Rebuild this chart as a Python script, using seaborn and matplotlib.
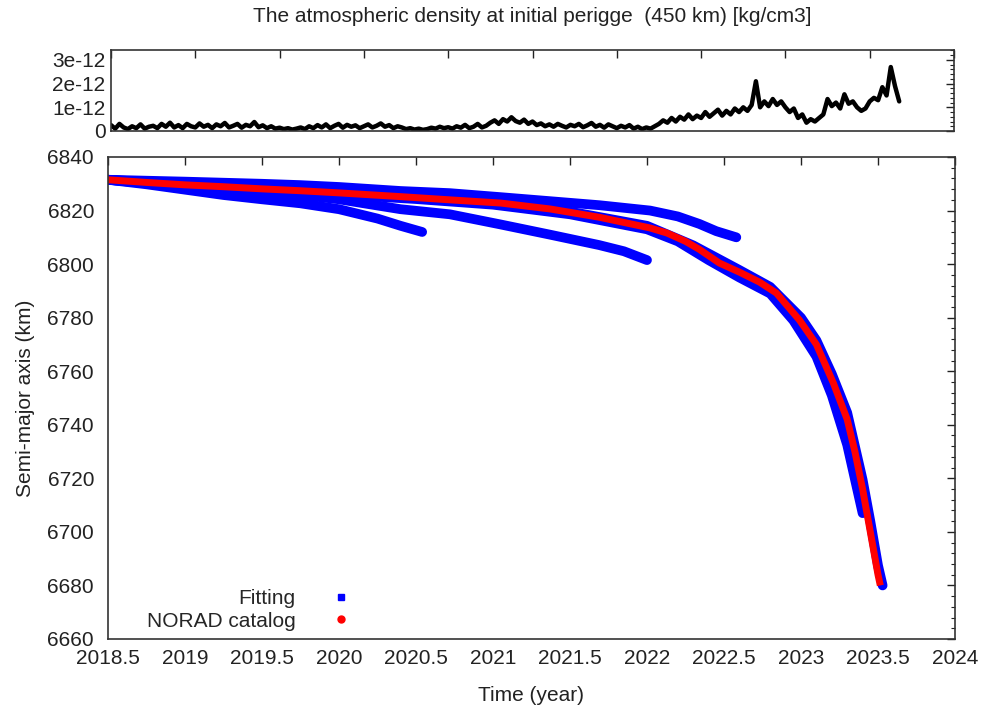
import numpy as np
import pandas as pd
import matplotlib
matplotlib.use("Agg")
import matplotlib.pyplot as plt
import seaborn as sns
from matplotlib.ticker import MultipleLocator, AutoMinorLocator, FuncFormatter
from matplotlib.lines import Line2D

# ---------------- data ----------------
# atmospheric density (x 1e-12 kg/cm3), sampled every 10 days from start
density_day = list(range(0, 1880, 10))
density_val = [
    0.25, 0.10, 0.30, 0.15, 0.08, 0.20, 0.12, 0.28, 0.10, 0.18,
    0.22, 0.12, 0.30, 0.18, 0.35, 0.15, 0.25, 0.12, 0.30, 0.20,
    0.15, 0.32, 0.18, 0.26, 0.12, 0.28, 0.20, 0.34, 0.15, 0.22,
    0.30, 0.14, 0.26, 0.20, 0.38, 0.16, 0.24, 0.12, 0.20, 0.10,
    0.14, 0.08, 0.12, 0.06, 0.10, 0.15, 0.08, 0.20, 0.12, 0.25,
    0.15, 0.28, 0.12, 0.22, 0.30, 0.14, 0.26, 0.18, 0.24, 0.12,
    0.20, 0.28, 0.15, 0.22, 0.32, 0.18, 0.25, 0.12, 0.20, 0.15,
    0.08, 0.12, 0.06, 0.10, 0.05, 0.08, 0.14, 0.10, 0.18, 0.12,
    0.16, 0.10, 0.20, 0.14, 0.26, 0.12, 0.18, 0.30, 0.15, 0.22,
    0.35, 0.45, 0.30, 0.50, 0.40, 0.58, 0.42, 0.35, 0.48, 0.30,
    0.40, 0.25, 0.32, 0.20, 0.28, 0.18, 0.30, 0.22, 0.15, 0.26,
    0.20, 0.30, 0.16, 0.24, 0.34, 0.18, 0.26, 0.14, 0.28, 0.20,
    0.12, 0.22, 0.15, 0.25, 0.10, 0.18, 0.08, 0.15, 0.10, 0.20,
    0.30, 0.45, 0.35, 0.55, 0.40, 0.60, 0.48, 0.70, 0.50, 0.65,
    0.55, 0.80, 0.60, 0.75, 0.90, 0.65, 0.85, 0.70, 0.95, 0.80,
    1.00, 0.85, 1.10, 2.10, 1.00, 1.25, 1.05, 1.35, 1.10, 1.25,
    1.00, 0.80, 0.95, 0.55, 0.70, 0.35, 0.50, 0.40, 0.55, 0.70,
    1.35, 1.05, 1.20, 0.95, 1.55, 1.15, 1.25, 1.00, 0.85, 0.95,
    1.25, 1.40, 1.30, 1.85, 1.50, 2.70, 1.90, 1.25,
]

# NORAD catalog semi-major axis
norad_t = [2018.5, 2018.75, 2019.0, 2019.25, 2019.5, 2019.75, 2020.0, 2020.4,
           2020.72, 2021.05, 2021.37, 2021.69, 2022.02, 2022.13, 2022.25, 2022.34,
           2022.47, 2022.6, 2022.73, 2022.84, 2022.99, 2023.1, 2023.21, 2023.3,
           2023.35, 2023.4, 2023.45, 2023.5, 2023.515]
norad_a = [6831.5, 6830.5, 6829.6, 6828.9, 6828.1, 6827.4, 6826.6, 6825.2,
           6824.0, 6822.8, 6820.6, 6817.5, 6813.5, 6811.6, 6808.5, 6805.5,
           6800.4, 6797.0, 6793.3, 6789.2, 6779.1, 6770.0, 6755.6, 6742.0,
           6730.0, 6716.0, 6700.0, 6684.0, 6680.0]

# Fitting arcs
fit1_t = [2018.5, 2018.75, 2019.0, 2019.25, 2019.5, 2019.75, 2020.0, 2020.25, 2020.4, 2020.54]
fit1_a = [6831.5, 6829.8, 6827.8, 6825.8, 6824.2, 6822.7, 6820.5, 6817.0, 6814.3, 6812.0]

fit2_t = [2018.5, 2018.75, 2019.0, 2019.25, 2019.5, 2019.75, 2020.0, 2020.4,
          2020.72, 2021.05, 2021.37, 2021.69, 2021.85, 2022.0]
fit2_a = [6831.5, 6830.2, 6828.9, 6827.8, 6826.8, 6825.8, 6824.2, 6820.5,
          6818.6, 6814.8, 6811.0, 6807.1, 6804.8, 6801.5]

fit3_t = [2018.5, 2019.0, 2019.5, 2019.75, 2020.0, 2020.4, 2020.72, 2021.05,
          2021.37, 2021.69, 2022.02, 2022.2, 2022.34, 2022.45, 2022.58]
fit3_a = [6831.5, 6830.8, 6830.0, 6829.5, 6828.8, 6827.3, 6826.5, 6825.0,
          6823.5, 6822.0, 6820.0, 6817.8, 6815.0, 6812.3, 6810.0]

fit4_t = [2018.5, 2019.0, 2019.5, 2020.0, 2020.5, 2021.0, 2021.5, 2022.0, 2022.2,
          2022.4, 2022.6, 2022.8, 2022.95, 2023.1, 2023.2, 2023.3, 2023.4]
fit4_a = [6831.5, 6829.2, 6827.6, 6826.0, 6824.3, 6822.2, 6818.6, 6813.0, 6808.5,
          6801.5, 6795.0, 6789.0, 6779.0, 6765.5, 6751.0, 6732.5, 6707.0]

fit5_t = [2018.5, 2019.0, 2019.5, 2020.0, 2020.5, 2021.0, 2021.5, 2022.0, 2022.3,
          2022.6, 2022.8, 2023.0, 2023.1, 2023.2, 2023.3, 2023.4, 2023.45, 2023.5, 2023.53]
fit5_a = [6831.5, 6829.8, 6828.4, 6826.9, 6825.2, 6823.2, 6819.6, 6814.3, 6807.0,
          6797.8, 6791.5, 6780.0, 6771.5, 6759.0, 6744.5, 6719.5, 6704.0, 6687.5, 6680.0]

x_ticks = [2018.5, 2019, 2019.5, 2020, 2020.5, 2021, 2021.5, 2022, 2022.5, 2023, 2023.5, 2024]
y_ticks = [6660, 6680, 6700, 6720, 6740, 6760, 6780, 6800, 6820, 6840]
dens_ticks = [0, 1e-12, 2e-12, 3e-12]
dens_labels = ["0", "1e-12", "2e-12", "3e-12"]

# ---------------- style ----------------
sns.set_style("white")
plt.rcParams["font.family"] = ["Liberation Sans", "DejaVu Sans"]
plt.rcParams["font.size"] = 15
plt.rcParams["xtick.direction"] = "in"
plt.rcParams["ytick.direction"] = "in"

fig = plt.figure(figsize=(9.86, 7.10), dpi=100)
W, H = 986, 710
ax_top = fig.add_axes([111 / W, 1 - 131 / H, 843 / W, 81 / H])
ax = fig.add_axes([108 / W, 1 - 639 / H, 847 / W, 482 / H])

# ---------------- top panel ----------------
dens_df = pd.DataFrame({"day": density_day,
                        "rho": np.array(density_val) * 1e-12})
sns.lineplot(data=dens_df, x="day", y="rho", ax=ax_top, color="black",
             lw=3.2, estimator=None, sort=False)
ax_top.set_xlim(0, 2000)
ax_top.set_ylim(0, 3.42e-12)
ax_top.xaxis.set_major_locator(MultipleLocator(200))
ax_top.set_xticklabels([])
ax_top.set_yticks(dens_ticks)
ax_top.set_yticklabels(dens_labels)
ax_top.yaxis.set_minor_locator(AutoMinorLocator(5))
ax_top.set_xlabel("")
ax_top.set_ylabel("")
ax_top.tick_params(axis="both", which="both", top=True, right=True,
                   labelsize=15, colors="#222222")
ax_top.tick_params(axis="x", which="major", length=6, width=1)
ax_top.tick_params(axis="y", which="major", length=6, width=1, pad=4)
ax_top.tick_params(axis="y", which="minor", length=3, width=0.8)

# ---------------- main panel ----------------
blue = "#0000ff"
red = "#ff0000"
for tt, aa in [(fit1_t, fit1_a), (fit2_t, fit2_a), (fit3_t, fit3_a),
               (fit4_t, fit4_a), (fit5_t, fit5_a)]:
    df = pd.DataFrame({"t": tt, "a": aa})
    sns.lineplot(data=df, x="t", y="a", ax=ax, color=blue, lw=7.0,
                 estimator=None, sort=False, solid_capstyle="round",
                 solid_joinstyle="round")
norad_df = pd.DataFrame({"t": norad_t, "a": norad_a})
sns.lineplot(data=norad_df, x="t", y="a", ax=ax, color=red, lw=5.0,
             estimator=None, sort=False, solid_capstyle="butt",
             solid_joinstyle="round")

ax.set_xlim(2018.5, 2024)
ax.set_ylim(6660, 6840)
ax.set_xticks(x_ticks)
ax.xaxis.set_major_formatter(FuncFormatter(lambda v, p: f"{v:g}"))
ax.set_yticks(y_ticks)
ax.yaxis.set_minor_locator(AutoMinorLocator(5))
ax.tick_params(axis="both", which="both", top=True, right=True,
               labelsize=15, colors="#222222")
ax.tick_params(axis="x", which="major", length=6, width=1, pad=7)
ax.tick_params(axis="y", which="major", length=6, width=1, pad=10)
ax.tick_params(axis="y", which="minor", length=3, width=0.8)
ax.set_xlabel("Time (year)", fontsize=15, color="#222222", labelpad=13)
ax.set_ylabel("Semi-major axis (km)", fontsize=15, color="#222222", labelpad=9)

for a_ in (ax, ax_top):
    for s in a_.spines.values():
        s.set_color("#333333")
        s.set_linewidth(1.2)
        s.set_visible(True)

handles = [Line2D([], [], marker="s", color=blue, linestyle="none", markersize=5),
           Line2D([], [], marker="o", color=red, linestyle="none", markersize=5)]
ax.legend(handles, ["Fitting", "NORAD catalog"], markerfirst=False,
          frameon=False, loc="center right",
          bbox_to_anchor=((362 - 108) / 847, (639 - 610) / 482),
          fontsize=15, handlelength=1.0, handletextpad=1.7,
          labelspacing=0.15, borderpad=0.0)

fig.text(532 / W, 1 - 16 / H,
         "The atmospheric density at initial perigge  (450 km) [kg/cm3]",
         ha="center", va="center", fontsize=15, color="#222222")

fig.savefig("out.png", dpi=100)
